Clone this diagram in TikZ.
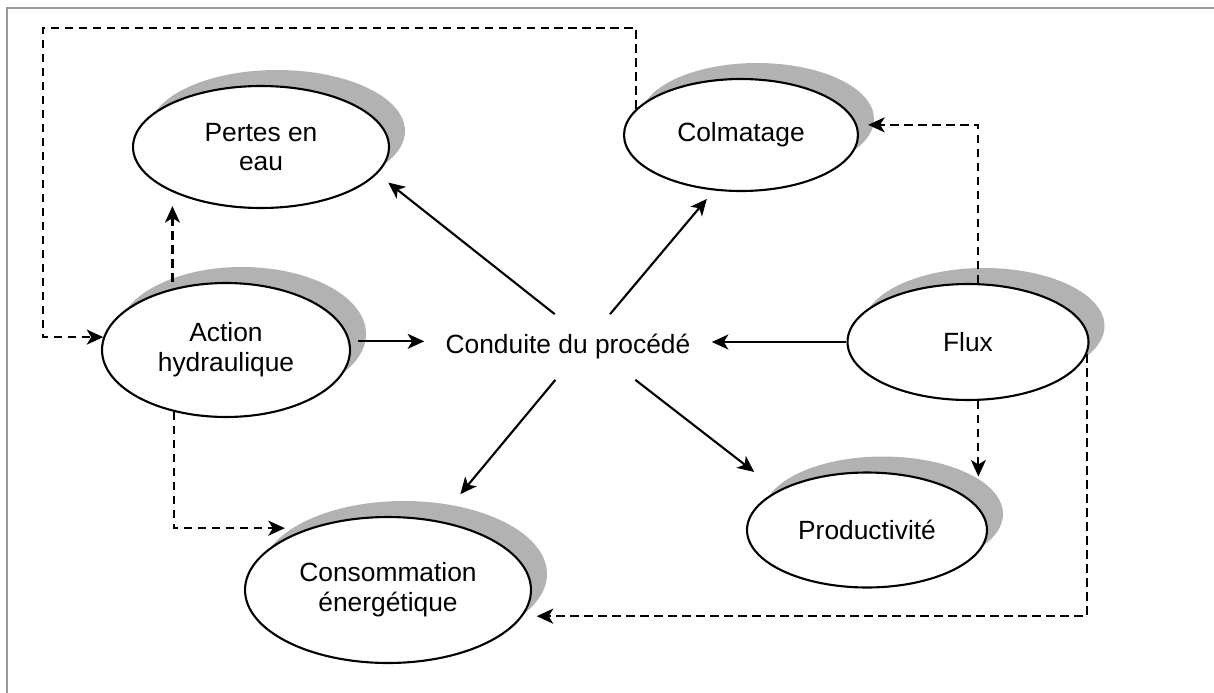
\documentclass[tikz,border=0pt]{standalone}
\usepackage{fontspec}
\setmainfont{Liberation Sans}
\usepackage{tikz}
\usetikzlibrary{shapes.geometric,arrows.meta,shadows}

\begin{document}
\begin{tikzpicture}[x=0.02cm, y=-0.02cm,
    bubble/.style={ellipse, draw, line width=1.2pt, fill=white, inner sep=0pt, align=center,
        font=\fontsize{15}{17}\selectfont,
        drop shadow={shadow xshift=0.32cm, shadow yshift=0.32cm, fill=gray!60, opacity=1}},
    flow/.style={line width=1.2pt, -{Stealth[length=0.33cm, width=0.3cm, inset=0.09cm]}},
    link/.style={flow, dash pattern=on 0.17cm off 0.11cm},
]
    \useasboundingbox (0,0) rectangle (1214,693);
    \draw[gray!80, line width=0.06cm] (7,693) -- (7,8) -- (1214,8);

    \node[bubble, minimum width=5.12cm, minimum height=2.44cm] (pertes) at (261,147) {Pertes en\\eau};
    \node[bubble, minimum width=4.68cm, minimum height=2.24cm] (colmatage) at (741,135) {Colmatage};
    \node[bubble, minimum width=4.96cm, minimum height=2.68cm] (action) at (226,350) {Action\\hydraulique};
    \node[bubble, minimum width=5.72cm, minimum height=2.92cm] (conso) at (388,590) {Consommation\\énergétique};
    \node[bubble, minimum width=4.82cm, minimum height=2.32cm] (flux) at (968,342) {Flux};
    \node[bubble, minimum width=4.8cm, minimum height=2.3cm] (prod) at (867,530) {Productivité};
    \node[font=\fontsize{15}{17}\selectfont, minimum width=5.74cm, minimum height=1.3cm, inner sep=0pt] (conduite) at (568,347) {Conduite du procédé};

    \draw[flow, shorten <=0.16cm] (action.4) -- (action.4 -| conduite.west);
    \draw[flow] (flux.west) -- (flux.west -| conduite.east);
    \draw[flow, shorten >=0.28cm] (conduite.112) -- (pertes.-13);
    \draw[flow, shorten >=0.22cm] (conduite.38) -- (colmatage.244);
    \draw[flow, shorten >=0.69cm] (conduite.249) -- (conso.54);
    \draw[flow, shorten >=0.6cm] (conduite.334) -- (prod.156);

    % dashed links
    \coordinate (corner) at (43,28);
    \draw[link, shorten >=0.28cm] (action.north -| pertes.207) -- (pertes.207);
    \draw[link] (colmatage.166) |- (corner) |- (action.174);
    \draw[link, shorten >=0.22cm] (flux.80) |- (colmatage.5);
    \draw[link, shorten >=-0.1cm] (flux.-80) -- (flux.-80 |- prod.north);
    \draw[link, shorten >=0.28cm] (flux.-6) |- (conso.-11.5);
    \draw[link, shorten >=0.48cm] (action.-130) |- (conso.142);
\end{tikzpicture}
\end{document}
